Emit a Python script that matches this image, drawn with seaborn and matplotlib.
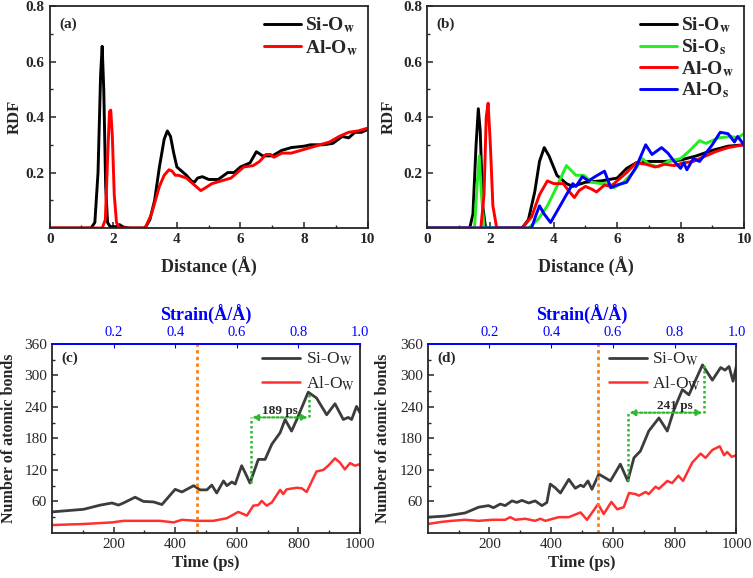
import numpy as np
import pandas as pd
import matplotlib
matplotlib.use("Agg")
import matplotlib.pyplot as plt
import seaborn as sns

# ==================== data ====================
# (a) RDF, panel a
a_si_ow_x = [0, 1.3, 1.42, 1.52, 1.6, 1.65, 1.7, 1.76, 1.82, 1.9, 2.1, 2.2, 2.3, 2.5, 3.0, 3.15, 3.3, 3.45, 3.6, 3.7,
             3.8, 3.9, 4.0, 4.15, 4.3, 4.45, 4.55, 4.65, 4.8, 5.0, 5.3, 5.6, 5.8, 6.0, 6.3, 6.5, 6.7, 7.0, 7.3, 7.6,
             8.0, 8.2, 8.6, 8.9, 9.2, 9.4, 9.6, 9.8, 10.0]
a_si_ow_y = [0, 0, 0.02, 0.2, 0.55, 0.655, 0.5, 0.15, 0.02, 0.005, 0.005, 0.012, 0.004, 0, 0, 0.03, 0.1, 0.22, 0.32, 0.35,
             0.33, 0.27, 0.22, 0.205, 0.19, 0.17, 0.165, 0.18, 0.185, 0.175, 0.175, 0.2, 0.2, 0.22, 0.235, 0.275, 0.26, 0.26, 0.28, 0.29,
             0.295, 0.3, 0.3, 0.305, 0.33, 0.325, 0.345, 0.345, 0.355]
a_al_ow_x = [0, 1.65, 1.75, 1.82, 1.88, 1.92, 1.97, 2.03, 2.1, 2.2, 3.0, 3.2, 3.45, 3.6, 3.75, 3.85, 3.95, 4.05, 4.3, 4.5,
             4.75, 4.9, 5.1, 5.4, 5.7, 5.9, 6.1, 6.4, 6.6, 6.8, 6.95, 7.05, 7.3, 7.6, 7.9, 8.2, 8.5, 8.8, 9.1,
             9.4, 9.7, 10.0]
a_al_ow_y = [0, 0, 0.03, 0.25, 0.42, 0.425, 0.33, 0.12, 0.02, 0, 0, 0.05, 0.15, 0.19, 0.21, 0.205, 0.19, 0.19, 0.18, 0.16,
             0.135, 0.145, 0.16, 0.17, 0.18, 0.2, 0.22, 0.225, 0.24, 0.265, 0.265, 0.255, 0.27, 0.27, 0.28, 0.29, 0.3, 0.31, 0.33,
             0.345, 0.35, 0.36]

# (b) RDF, panel b
b_si_ow_x = [0, 1.35, 1.45, 1.55, 1.62, 1.68, 1.76, 1.85, 3.0, 3.2, 3.4, 3.55, 3.7, 3.85, 4.1, 4.4, 4.6, 5.0, 5.5,
             6.0, 6.3, 6.6, 7.0, 7.5, 8.0, 8.5, 9.0, 9.5, 10.0]
b_si_ow_y = [0, 0, 0.05, 0.3, 0.43, 0.35, 0.08, 0, 0, 0.03, 0.13, 0.24, 0.29, 0.26, 0.19, 0.16, 0.15, 0.165, 0.17,
             0.18, 0.215, 0.235, 0.24, 0.24, 0.245, 0.26, 0.28, 0.295, 0.3]
b_si_os_x = [0, 1.5, 1.58, 1.65, 1.72, 1.8, 3.2, 3.5, 3.8, 4.1, 4.4, 4.7, 4.95, 5.2, 5.5, 5.75, 5.9, 6.2, 6.5, 6.8,
             7.0, 7.3, 7.6, 8.0, 8.3, 8.6, 8.8, 9.2, 9.6, 9.8, 10.0]
b_si_os_y = [0, 0, 0.15, 0.26, 0.12, 0, 0, 0.03, 0.08, 0.15, 0.225, 0.19, 0.19, 0.165, 0.16, 0.16, 0.145, 0.165, 0.2, 0.25,
             0.23, 0.22, 0.24, 0.25, 0.28, 0.315, 0.305, 0.325, 0.33, 0.325, 0.34]
b_al_ow_x = [0, 1.7, 1.8, 1.87, 1.93, 2.0, 2.08, 2.2, 3.0, 3.3, 3.55, 3.8, 4.0, 4.3, 4.5, 4.65, 4.8, 5.0, 5.2, 5.35,
             5.6, 5.8, 6.0, 6.3, 6.6, 6.9, 7.2, 7.5, 7.8, 8.1, 8.4, 8.7, 9.1, 9.5, 10.0]
b_al_ow_y = [0, 0, 0.12, 0.4, 0.45, 0.3, 0.08, 0, 0, 0.04, 0.12, 0.17, 0.16, 0.16, 0.13, 0.11, 0.135, 0.15, 0.14, 0.13,
             0.155, 0.15, 0.17, 0.2, 0.235, 0.23, 0.22, 0.23, 0.225, 0.235, 0.24, 0.255, 0.275, 0.29, 0.3]
b_al_os_x = [0, 3.3, 3.45, 3.55, 3.7, 3.9, 4.1, 4.3, 4.6, 4.7, 4.9, 5.1, 5.3, 5.6, 5.8, 6.0, 6.3, 6.6, 6.9, 7.1,
             7.4, 7.6, 7.8, 8.0, 8.1, 8.2, 8.4, 8.6, 8.8, 9.0, 9.25, 9.5, 9.7, 9.8, 10.0]
b_al_os_y = [0, 0, 0.05, 0.08, 0.05, 0.02, 0.06, 0.1, 0.16, 0.15, 0.185, 0.17, 0.185, 0.205, 0.145, 0.155, 0.165, 0.22, 0.3, 0.265,
             0.29, 0.27, 0.24, 0.215, 0.235, 0.21, 0.25, 0.24, 0.27, 0.3, 0.345, 0.34, 0.31, 0.33, 0.3]

# (c) bond counts
c_si_t = [0, 103, 157, 195, 216, 232, 270, 297, 330, 357, 400, 422, 460, 481, 503, 519, 535, 557, 568, 584,
          595, 616, 627, 643, 670, 692, 714, 741, 757, 778, 795, 832, 859, 892, 919, 946, 962, 973, 989, 1000]
c_si_n = [40, 45, 53, 57, 53, 57, 68, 60, 59, 54, 83, 78, 90, 82, 82, 91, 76, 99, 90, 97,
          93, 128, 115, 95, 140, 140, 169, 191, 216, 194, 216, 268, 257, 225, 246, 216, 220, 216, 241, 229]
c_al_t = [0, 103, 195, 232, 270, 351, 395, 422, 470, 524, 568, 605, 633, 654, 670, 681, 697, 714, 741, 751,
          762, 795, 811, 827, 859, 881, 897, 919, 935, 951, 968, 984, 1000]
c_al_n = [15, 17, 20, 23, 23, 23, 20, 25, 23, 23, 28, 40, 33, 52, 53, 61, 52, 58, 82, 74,
          83, 86, 85, 78, 117, 120, 128, 142, 134, 121, 133, 128, 131]

# (d) bond counts
d_si_t = [0, 56, 121, 165, 197, 213, 235, 251, 273, 289, 305, 327, 348, 370, 386, 397, 413, 430, 457, 478,
          495, 505, 519, 532, 549, 554, 592, 624, 648, 668, 689, 716, 749, 776, 798, 825, 846, 890, 922, 949,
          963, 976, 989, 1000]
d_si_n = [30, 32, 38, 49, 52, 48, 55, 52, 61, 58, 62, 57, 61, 52, 58, 93, 86, 76, 102, 85,
          91, 88, 99, 83, 105, 112, 99, 131, 99, 143, 156, 194, 219, 194, 235, 273, 263, 320, 291, 315,
          310, 317, 289, 318]
d_al_t = [0, 45, 78, 121, 165, 208, 251, 267, 284, 316, 348, 365, 381, 424, 457, 495, 516, 552, 570, 595,
          614, 635, 652, 673, 684, 706, 716, 738, 749, 776, 792, 812, 827, 857, 884, 900, 922, 946, 960, 970,
          985, 1000]
d_al_n = [17, 21, 23, 25, 23, 25, 25, 30, 25, 27, 23, 27, 23, 30, 30, 39, 25, 55, 36, 59,
          45, 49, 76, 74, 71, 78, 74, 88, 84, 99, 95, 109, 99, 134, 151, 143, 158, 165, 148, 154,
          145, 148]

c_fail_time = 470
d_fail_time = 552
# [t_start, n_start, n_arrow, t_end, n_end, label, label_t]
c_bracket = [645, 95, 220, 836, 266, "189 ps", 740]
d_bracket = [648, 99, 229, 895, 320, "241 ps", 800]

# ==================== style ====================
sns.set_style("ticks")
plt.rcParams["font.family"] = ["Liberation Serif", "DejaVu Serif"]
plt.rcParams["mathtext.fontset"] = "stix"
plt.rcParams["axes.linewidth"] = 1.3
plt.rcParams["xtick.direction"] = "in"
plt.rcParams["ytick.direction"] = "in"

fig = plt.figure(figsize=(7.53, 5.78), dpi=100)
ax_a = fig.add_axes([0.066, 0.6055, 0.4223, 0.384])
ax_b = fig.add_axes([0.567, 0.6055, 0.421, 0.384])
ax_c = fig.add_axes([0.069, 0.078, 0.409, 0.327])
ax_d = fig.add_axes([0.568, 0.078, 0.41, 0.327])


def rdf_panel(ax, series, tag, ylab_x, spacing):
    for x, y, c, lab in series:
        sns.lineplot(x=x, y=y, ax=ax, color=c, lw=2.1, label=lab)
    ax.set_xlim(0, 10)
    ax.set_ylim(0, 0.8)
    ax.set_xticks([0, 2, 4, 6, 8, 10])
    ax.set_xticks([1, 3, 5, 7, 9], minor=True)
    ax.set_yticks([0.2, 0.4, 0.6, 0.8])
    ax.set_yticks([0.1, 0.3, 0.5, 0.7], minor=True)
    ax.tick_params(labelsize=11, length=4, width=1.1)
    ax.tick_params(which="minor", length=2.5, width=1)
    for lbl in ax.get_xticklabels() + ax.get_yticklabels():
        lbl.set_fontweight("bold")
    ax.set_xlabel("Distance (Å)", fontsize=13, fontweight="bold")
    ax.set_ylabel("RDF", fontsize=12, fontweight="bold")
    ax.xaxis.set_label_coords(0.5, -0.13)
    ax.yaxis.set_label_coords(ylab_x, 0.5)
    ax.text(0.03, 0.95, tag, transform=ax.transAxes, fontsize=11, fontweight="bold", va="top")
    ax.legend(loc="upper right", frameon=False, handlelength=1.9, handletextpad=0.2,
              prop={"weight": "bold", "size": 14}, labelspacing=spacing, borderaxespad=0.1)


rdf_panel(ax_a, [(a_si_ow_x, a_si_ow_y, "black", r"Si-O$_\mathbf{w}$"),
                 (a_al_ow_x, a_al_ow_y, "#ff0000", r"Al-O$_\mathbf{w}$")], "(a)", -0.085, 0.12)
rdf_panel(ax_b, [(b_si_ow_x, b_si_ow_y, "black", r"Si-O$_\mathbf{w}$"),
                 (b_si_os_x, b_si_os_y, "#22ee22", r"Si-O$_\mathbf{s}$"),
                 (b_al_ow_x, b_al_ow_y, "#ff0000", r"Al-O$_\mathbf{w}$"),
                 (b_al_os_x, b_al_os_y, "#0000ff", r"Al-O$_\mathbf{s}$")], "(b)", -0.095, 0.1)


def bond_panel(ax, si_t, si_n, al_t, al_n, fail_t, bracket, tag, ylab_x, leg_anchor):
    sns.lineplot(x=si_t, y=si_n, ax=ax, color="#3c3c3c", lw=2, label=r"Si-O$_\mathrm{W}$")
    sns.lineplot(x=al_t, y=al_n, ax=ax, color="#ff3030", lw=1.8, label=r"Al-O$_\mathrm{W}$")
    ax.axvline(fail_t, color="#ff7f0e", ls=(0, (1.2, 1.2)), lw=2)
    t0, n0, n1, t1, n2, txt, txt_t = bracket
    gc = "#2db82d"
    ax.plot([t0, t0], [n0, n1], color=gc, ls=(0, (1, 1)), lw=1.8)
    ax.plot([t1, t1], [n1, n2], color=gc, ls=(0, (1, 1)), lw=1.8)
    ax.annotate("", xy=(t0 + 5, n1), xytext=(t1 - 5, n1),
                arrowprops=dict(arrowstyle="<|-|>", color=gc, ls=(0, (1, 1)), lw=1.6,
                                mutation_scale=8, shrinkA=0, shrinkB=0))
    ax.text(txt_t, n1 + 1, txt, ha="center", va="bottom", fontsize=9.5, fontweight="bold")
    ax.set_xlim(0, 1000)
    ax.set_ylim(0, 360)
    ax.set_xticks([200, 400, 600, 800, 1000])
    ax.set_xticks([100, 300, 500, 700, 900], minor=True)
    ax.set_yticks([60, 120, 180, 240, 300, 360])
    ax.set_yticks([30, 90, 150, 210, 270, 330], minor=True)
    ax.tick_params(labelsize=11, length=4, width=1.1)
    ax.tick_params(which="minor", length=2.5, width=1)
    ax.set_xlabel("Time (ps)", fontsize=12, fontweight="bold")
    ax.set_ylabel("Number of atomic bonds", fontsize=11.5, fontweight="bold")
    ax.xaxis.set_label_coords(0.5, -0.115)
    ax.yaxis.set_label_coords(ylab_x, 0.5)
    ax.spines["top"].set_color("blue")
    top = ax.secondary_xaxis("top", functions=(lambda t: t / 1000.0, lambda s: s * 1000.0))
    top.set_xticks([0.2, 0.4, 0.6, 0.8, 1.0])
    top.set_xticklabels(["0.2", "0.4", "0.6", "0.8", "1.0"])
    top.tick_params(colors="blue", labelsize=10.5, length=3, direction="in")
    top.spines["top"].set_color("blue")
    top.set_xlabel("Strain(Å/Å)", color="blue", fontsize=13, fontweight="bold")
    ax.text(0.03, 0.96, tag, transform=ax.transAxes, fontsize=11, fontweight="bold", va="top")
    ax.legend(loc="upper left", bbox_to_anchor=leg_anchor, frameon=False, handlelength=2.2,
              handletextpad=0.3, prop={"size": 12.5}, labelspacing=0.35, borderaxespad=0.0)


bond_panel(ax_c, c_si_t, c_si_n, c_al_t, c_al_n, c_fail_time, c_bracket, "(c)", -0.115, (0.66, 1.0))
bond_panel(ax_d, d_si_t, d_si_n, d_al_t, d_al_n, d_fail_time, d_bracket, "(d)", -0.118, (0.565, 1.0))

fig.savefig("out.png", dpi=100)
